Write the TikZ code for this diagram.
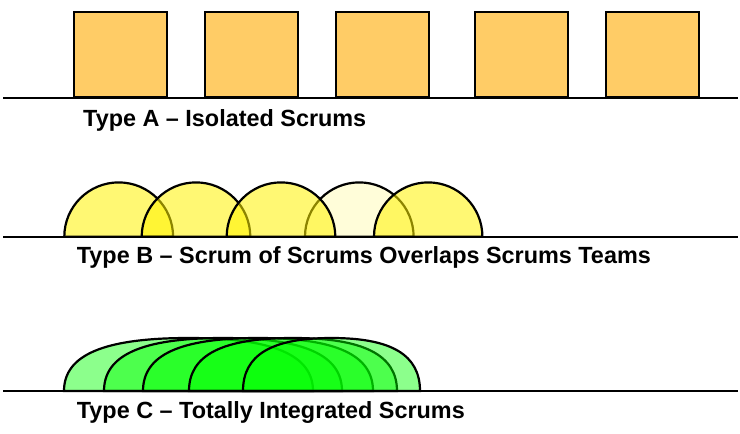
\documentclass[tikz,border=0pt]{standalone}
\usepackage{fontspec}
\setmainfont{Liberation Sans}
\definecolor{boxfill}{RGB}{255,204,102}
% half dome standing on a base line: style, left x, right x, base y, height, bezier factor
\newcommand{\scrumdome}[6]{%
  \draw[#1] (#2,#4)
    .. controls (#2,{#4-#6*#5}) and ({(#2+#3)/2-#6*(#3-#2)/2},{#4-#5}) .. ({(#2+#3)/2},{#4-#5})
    .. controls ({(#2+#3)/2+#6*(#3-#2)/2},{#4-#5}) and (#3,{#4-#6*#5}) .. (#3,#4) -- cycle;}
\begin{document}
\begin{tikzpicture}[x=1pt,y=-1pt,
  ground/.style={line width=2.4pt},
  team/.style={draw=black,line width=2.2pt,fill=boxfill},
  bubble/.style={draw=black,line width=2.2pt,fill=yellow,fill opacity=0.55,draw opacity=1},
  palebubble/.style={bubble,fill opacity=0.15},
  blob/.style={draw=black,line width=2.2pt,fill=green,fill opacity=0.45,draw opacity=1},
  caption/.style={anchor=base west,inner sep=0pt,font=\bfseries\fontsize{23.4}{28}\selectfont}]
\useasboundingbox (0,0) rectangle (740,434);

% Type A: separate teams
\foreach \l/\n in {72.7/a1,203.7/a2,335/a3,474/a4,605/a5}
  \node[team,minimum width=93pt,minimum height=84.4pt,inner sep=0pt,anchor=south west] (\n) at (\l,97.7) {};
\coordinate (la) at (3,97.7);
\coordinate (ra) at (738,97.7);
\draw[ground] (la) -- (ra);
\node[caption] (ta) at (83,126.8) {Type A – Isolated Scrums};

% Type B: overlapping half circles
\scrumdome{bubble}{64.3}{173.1}{236.7}{54.3}{0.5523}
\scrumdome{bubble}{141.7}{250.3}{236.7}{54.3}{0.5523}
\scrumdome{palebubble}{305}{413.6}{236.7}{54.3}{0.5523}
\scrumdome{bubble}{226.7}{335.3}{236.7}{54.3}{0.5523}
\scrumdome{bubble}{374}{482.4}{236.7}{54.3}{0.5523}
\coordinate (lb) at (3,236.7);
\coordinate (rb) at (738,236.7);
\draw[ground] (lb) -- (rb);
\node[caption] (tb) at (76.7,263.3) {Type B – Scrum of Scrums Overlaps Scrums Teams};

% Type C: stacked half ovals
\scrumdome{blob}{64}{313}{391}{53}{0.68}
\scrumdome{blob}{104}{342}{391}{53}{0.68}
\scrumdome{blob}{143}{373}{391}{53}{0.68}
\scrumdome{blob}{189}{397}{391}{53}{0.68}
\scrumdome{blob}{243}{420}{391}{53}{0.68}
\coordinate (lc) at (3,391);
\coordinate (rc) at (738,391);
\draw[ground] (lc) -- (rc);
\node[caption] (tc) at (76.7,418.3) {Type C – Totally Integrated Scrums};
\end{tikzpicture}
\end{document}
